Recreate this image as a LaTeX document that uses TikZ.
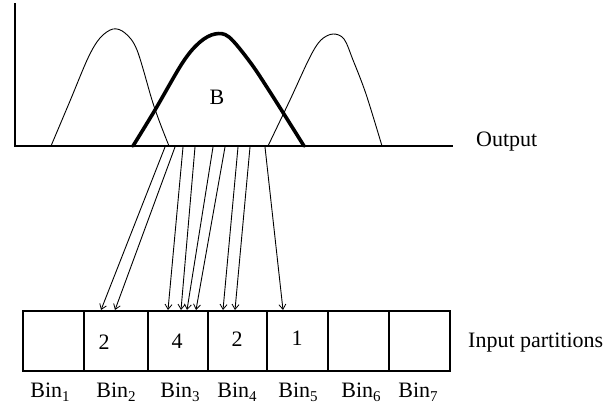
\documentclass[tikz,border=0pt]{standalone}
\usepackage{fontspec}
\setmainfont{Liberation Serif}
\usetikzlibrary{arrows.meta}
\newcommand{\binlab}[1]{Bin\raisebox{-4pt}{\fontsize{15}{15}\selectfont #1}}
\begin{document}
\begin{tikzpicture}[x=1pt,y=-1pt,
  txt/.style={font=\fontsize{22}{25}\selectfont, inner sep=0pt},
  bin/.style={draw, line width=1.4pt, minimum height=60pt, inner sep=0pt},
  thinbump/.style={line width=0.9pt},
  boldbump/.style={line width=3.6pt},
  arr/.style={line width=0.9pt, -{Straight Barb[length=5pt,width=7pt,line width=0.8pt]}}]
\useasboundingbox (0,0) rectangle (606,413);
% axes
\coordinate (ytop) at (15,3);
\coordinate (orig) at (15,146);
\coordinate (xend) at (453,146);
\draw[line width=1.3pt] (ytop) -- (orig) -- (xend);
\node[txt, anchor=west] (out) at (476,142) {Output};
% bumps
\draw[thinbump] plot[smooth, tension=0.55] coordinates {(51,146) (70,101) (88,58) (100,38) (113,29) (125,33) (137,50) (152,100) (160,123) (169,146)};
\draw[thinbump] plot[smooth, tension=0.55] coordinates {(268,146) (290,100) (310,57) (321,40) (333,34) (344,39) (353,60) (366,94) (382,146)};
\draw[boldbump, line cap=round] plot[smooth, tension=0.55] coordinates {(133,146) (155,110) (183,62) (200,42) (215,34) (229,37) (250,62) (270,92) (304,146)};
\node[txt] (B) at (217,97) {B};
% boxes
\node[bin, minimum width=61pt] (b1) at (53.5,341) {};
\node[bin, minimum width=64pt] (b2) at (116,341) {};
\node[bin, minimum width=60pt] (b3) at (178,341) {};
\node[bin, minimum width=59pt] (b4) at (237.5,341) {};
\node[bin, minimum width=61pt] (b5) at (297.5,341) {};
\node[bin, minimum width=61pt] (b6) at (358.5,341) {};
\node[bin, minimum width=61pt] (b7) at (419.5,341) {};
\node[txt] (n2) at (104,342) {2};
\node[txt] (n3) at (177,341) {4};
\node[txt] (n4) at (237,339) {2};
\node[txt] (n5) at (297,338) {1};
\node[txt, anchor=west] (inp) at (468,343) {Input partitions};
% bin labels
\node[txt, anchor=base] (l1) at (50,397) {\binlab{1}};
\node[txt, anchor=base] (l2) at (116,397) {\binlab{2}};
\node[txt, anchor=base] (l3) at (180,397) {\binlab{3}};
\node[txt, anchor=base] (l4) at (237,397) {\binlab{4}};
\node[txt, anchor=base] (l5) at (298,397) {\binlab{5}};
\node[txt, anchor=base] (l6) at (361,397) {\binlab{6}};
\node[txt, anchor=base] (l7) at (418,397) {\binlab{7}};
% arrows
\foreach \i/\sx/\ex in {1/165/101, 2/175/115, 3/183/168, 4/195/181, 5/213/187, 6/225/196, 7/238/223, 8/250/235, 9/265/283} {
  \coordinate (s\i) at (\sx,147);
  \coordinate (e\i) at (\ex,310);
  \draw[arr] (s\i) -- (e\i);
}
\end{tikzpicture}
\end{document}
